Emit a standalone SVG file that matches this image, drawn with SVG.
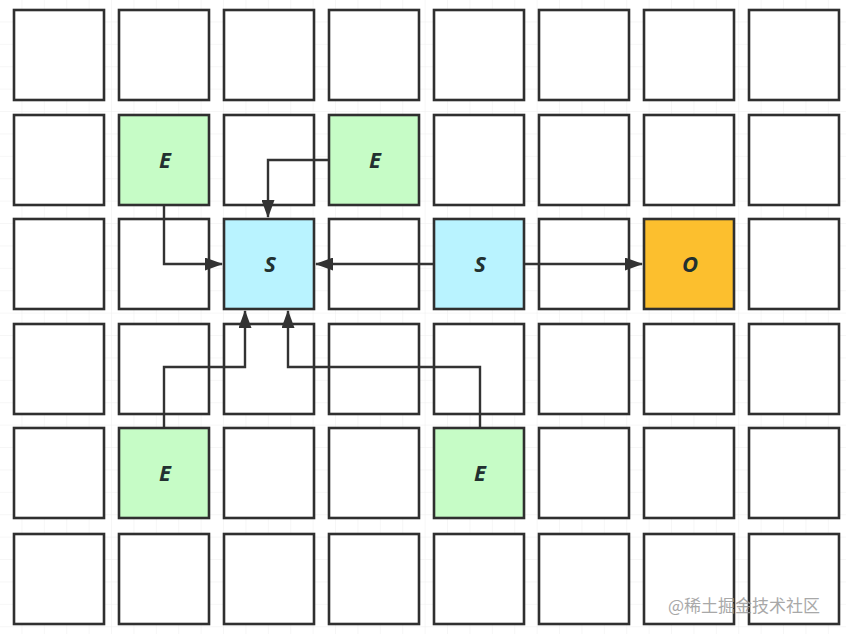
<svg xmlns="http://www.w3.org/2000/svg" width="846" height="634" viewBox="0 0 846 634">
<defs>
<pattern id="grid" x="0" y="0" width="22.4" height="22.4" patternUnits="userSpaceOnUse">
<path d="M22.4 0V22.4M0 22.4H22.4" fill="none" stroke="#eeeeee" stroke-width="1"/>
</pattern>
<marker id="arr" markerWidth="18" markerHeight="13" refX="17" refY="6.5" orient="auto" markerUnits="userSpaceOnUse">
<path d="M0 0L18 6.5L0 13Z" fill="#333"/>
</marker>
<style>
.b{fill:#fff;stroke:#2f2f2f;stroke-width:2.6}
.e{fill:#c6fcc6;stroke:#2f2f2f;stroke-width:2.6}
.s{fill:#b9f3ff;stroke:#2f2f2f;stroke-width:2.6}
.o{fill:#fcbf2e;stroke:#2f2f2f;stroke-width:2.6}
.t{font-family:"Open Sans","DejaVu Sans",sans-serif;font-size:22px;font-weight:bold;font-style:italic;fill:#223030;text-anchor:middle}
.c{fill:none;stroke:#333;stroke-width:2.4}
</style>
</defs>
<rect width="846" height="634" fill="#fff"/>
<rect width="846" height="634" fill="url(#grid)"/>
<g id="cells">
<rect class="b" x="14" y="10" width="90" height="90"/>
<rect class="b" x="119" y="10" width="90" height="90"/>
<rect class="b" x="224" y="10" width="90" height="90"/>
<rect class="b" x="329" y="10" width="90" height="90"/>
<rect class="b" x="434" y="10" width="90" height="90"/>
<rect class="b" x="539" y="10" width="90" height="90"/>
<rect class="b" x="644" y="10" width="90" height="90"/>
<rect class="b" x="749" y="10" width="90" height="90"/>
<rect class="b" x="14" y="115" width="90" height="90"/>
<rect class="b" x="224" y="115" width="90" height="90"/>
<rect class="b" x="434" y="115" width="90" height="90"/>
<rect class="b" x="539" y="115" width="90" height="90"/>
<rect class="b" x="644" y="115" width="90" height="90"/>
<rect class="b" x="749" y="115" width="90" height="90"/>
<rect class="b" x="14" y="219" width="90" height="90"/>
<rect class="b" x="119" y="219" width="90" height="90"/>
<rect class="b" x="329" y="219" width="90" height="90"/>
<rect class="b" x="539" y="219" width="90" height="90"/>
<rect class="b" x="749" y="219" width="90" height="90"/>
<rect class="b" x="14" y="324" width="90" height="90"/>
<rect class="b" x="119" y="324" width="90" height="90"/>
<rect class="b" x="224" y="324" width="90" height="90"/>
<rect class="b" x="329" y="324" width="90" height="90"/>
<rect class="b" x="434" y="324" width="90" height="90"/>
<rect class="b" x="539" y="324" width="90" height="90"/>
<rect class="b" x="644" y="324" width="90" height="90"/>
<rect class="b" x="749" y="324" width="90" height="90"/>
<rect class="b" x="14" y="428" width="90" height="90"/>
<rect class="b" x="224" y="428" width="90" height="90"/>
<rect class="b" x="329" y="428" width="90" height="90"/>
<rect class="b" x="539" y="428" width="90" height="90"/>
<rect class="b" x="644" y="428" width="90" height="90"/>
<rect class="b" x="749" y="428" width="90" height="90"/>
<rect class="b" x="14" y="534" width="90" height="90"/>
<rect class="b" x="119" y="534" width="90" height="90"/>
<rect class="b" x="224" y="534" width="90" height="90"/>
<rect class="b" x="329" y="534" width="90" height="90"/>
<rect class="b" x="434" y="534" width="90" height="90"/>
<rect class="b" x="539" y="534" width="90" height="90"/>
<rect class="b" x="644" y="534" width="90" height="90"/>
<rect class="b" x="749" y="534" width="90" height="90"/>
</g>
<g id="e1"><rect class="e" x="119" y="115" width="90" height="90"/><text class="t" x="165" y="168">E</text></g>
<g id="e2"><rect class="e" x="329" y="115" width="90" height="90"/><text class="t" x="375" y="168">E</text></g>
<g id="s1"><rect class="s" x="224" y="219" width="90" height="90"/><text class="t" x="270" y="272">S</text></g>
<g id="s2"><rect class="s" x="434" y="219" width="90" height="90"/><text class="t" x="480" y="272">S</text></g>
<g id="o1"><rect class="o" x="644" y="219" width="90" height="90"/><text class="t" x="690" y="272">O</text></g>
<g id="e3"><rect class="e" x="119" y="428" width="90" height="90"/><text class="t" x="165" y="481">E</text></g>
<g id="e4"><rect class="e" x="434" y="428" width="90" height="90"/><text class="t" x="480" y="481">E</text></g>
<g id="connectors">
<path class="c" d="M164 206V264H222" marker-end="url(#arr)"/>
<path class="c" d="M328 160H268V217" marker-end="url(#arr)"/>
<path class="c" d="M433 264H316" marker-end="url(#arr)"/>
<path class="c" d="M525 264H642" marker-end="url(#arr)"/>
<path class="c" d="M164 427V367H245V311" marker-end="url(#arr)"/>
<path class="c" d="M480 427V367H288V311" marker-end="url(#arr)"/>
</g>
<text x="668" y="612" font-family="'Noto Sans CJK SC',sans-serif" font-size="17" fill="#9a9a9a" opacity="0.85">@稀土掘金技术社区</text>
</svg>
